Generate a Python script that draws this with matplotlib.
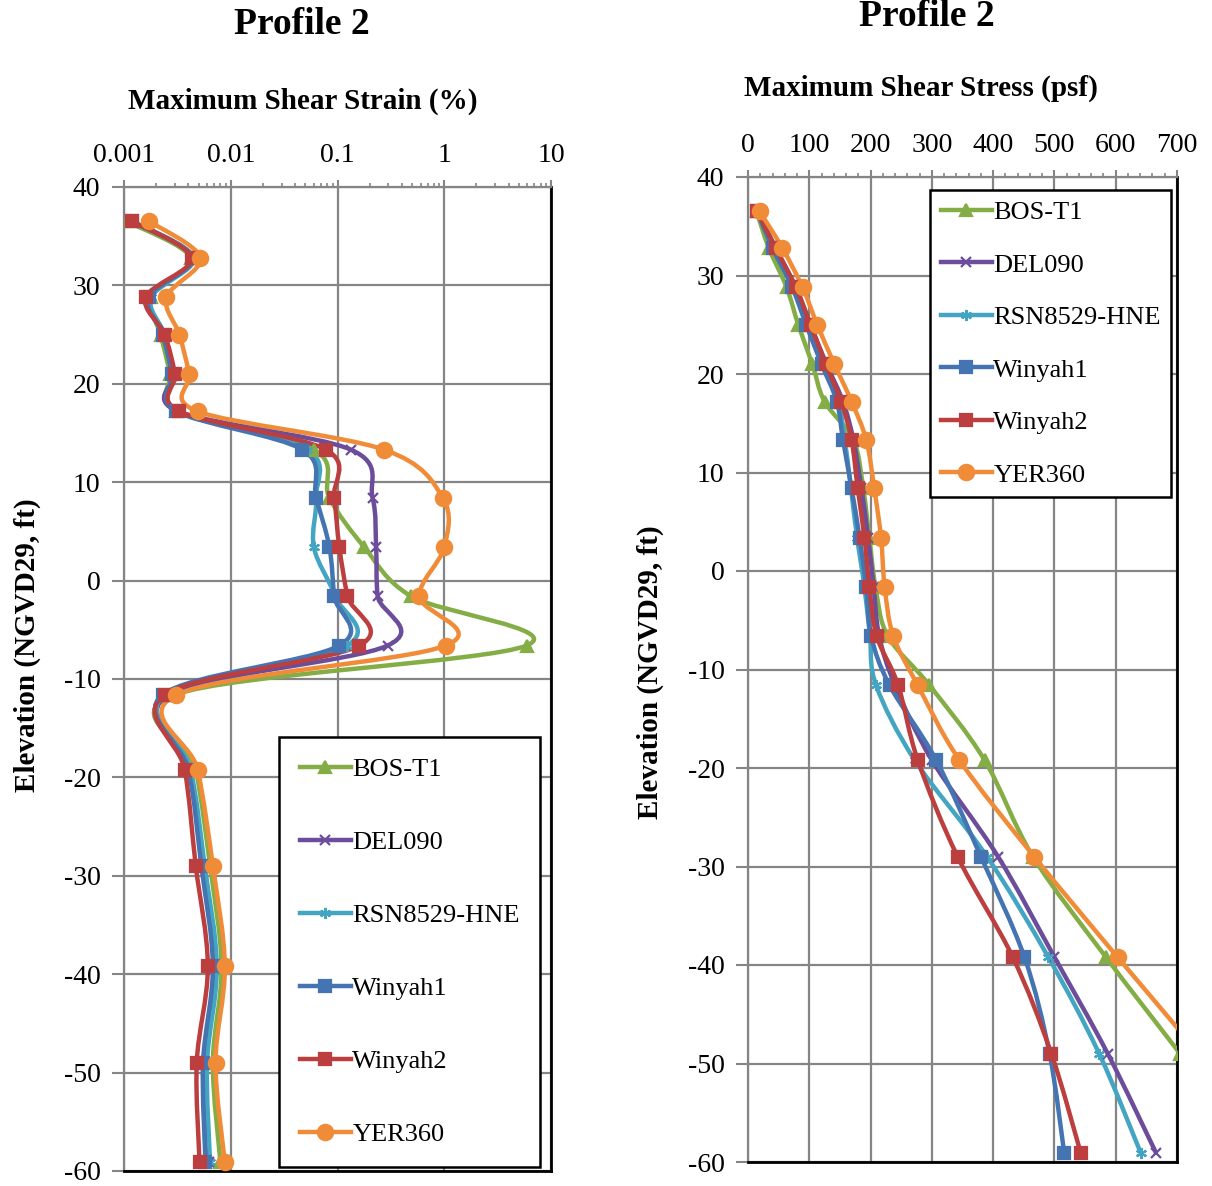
"""Profile 2: maximum shear strain and maximum shear stress vs elevation, six input motions."""
import matplotlib
matplotlib.use("Agg")
import matplotlib.pyplot as plt  # noqa: E402
import numpy as np  # noqa: E402
from matplotlib.lines import Line2D  # noqa: E402
from matplotlib.patches import PathPatch  # noqa: E402
from matplotlib.path import Path  # noqa: E402
from matplotlib.ticker import MultipleLocator, LogLocator, NullFormatter  # noqa: E402

plt.rcParams["font.family"] = ["Liberation Serif", "DejaVu Serif"]
plt.rcParams["axes.unicode_minus"] = False

# elevation of each output layer (ft, NGVD29)
elev = [36.5, 32.8, 28.8, 25.0, 21.0, 17.2, 13.3, 8.4, 3.4, -1.6, -6.6,
        -11.6, -19.2, -29.0, -39.2, -49.0, -59.1]

motions = ["BOS-T1", "DEL090", "RSN8529-HNE", "Winyah1", "Winyah2", "YER360"]

# maximum shear strain (%)
strain_bos = [0.00107, 0.0042, 0.0018, 0.0022, 0.0027, 0.0031, 0.060, 0.084, 0.178, 0.49, 5.9,
              0.0030, 0.0047, 0.0064, 0.0082, 0.0068, 0.0080]
strain_del = [0.0012, 0.0044, 0.0017, 0.0024, 0.0029, 0.0032, 0.134, 0.213, 0.23, 0.238, 0.295,
              0.0026, 0.0041, 0.0056, 0.0072, 0.0058, 0.0062]
strain_rsn = [0.0012, 0.0045, 0.0018, 0.0024, 0.0029, 0.0032, 0.052, 0.063, 0.060, 0.095, 0.122,
              0.0024, 0.0042, 0.0057, 0.0074, 0.0060, 0.0064]
strain_w1 = [0.0012, 0.0044, 0.0017, 0.0023, 0.0028, 0.0031, 0.047, 0.063, 0.084, 0.093, 0.104,
             0.0023, 0.0040, 0.0053, 0.0068, 0.0055, 0.0058]
strain_w2 = [0.0012, 0.0043, 0.0016, 0.0024, 0.0030, 0.0033, 0.078, 0.093, 0.104, 0.124, 0.160,
             0.0024, 0.0037, 0.0047, 0.0061, 0.0048, 0.0051]
strain_yer = [0.00173, 0.0052, 0.0025, 0.0033, 0.0041, 0.0049, 0.274, 0.97, 1.0, 0.585, 1.03,
              0.0031, 0.0049, 0.0068, 0.0088, 0.0072, 0.0088]

# maximum shear stress (psf)
stress_bos = [14, 34, 63, 82, 105, 125, 172, 188, 198, 208, 228, 296, 386, 465, 584, 705, 830]
stress_del = [16, 45, 78, 102, 128, 155, 172, 185, 196, 205, 214, 240, 300, 408, 500, 587, 666]
stress_rsn = [15, 42, 74, 97, 122, 147, 158, 168, 178, 190, 199, 209, 272, 390, 490, 573, 641]
stress_w1 = [15, 40, 72, 95, 120, 145, 155, 169, 182, 193, 201, 231, 307, 380, 451, 492, 516]
stress_w2 = [15, 45, 78, 102, 127, 152, 169, 179, 190, 198, 210, 245, 277, 342, 432, 495, 543]
stress_yer = [19, 56, 89, 113, 141, 169, 193, 206, 217, 223, 237, 277, 345, 467, 603, 736, 870]

strain = [strain_bos, strain_del, strain_rsn, strain_w1, strain_w2, strain_yer]
stress = [stress_bos, stress_del, stress_rsn, stress_w1, stress_w2, stress_yer]

colors = ["#84AE45", "#6C4D9C", "#43A5C2", "#4474B2", "#BC3E3E", "#F08B38"]
markers = ["^", "x", (6, 2, 0), "s", "s", "o"]
msizes = [8, 7, 8, 8, 8, 11]

W, H = 1212, 1186


def fx(px):
    return px / W


def fy(py):
    return 1 - py / H


def smooth_path(xs, ys, logx=False):
    """Excel-style smoothed line: cubic Bezier through every point."""
    u = np.log10(xs) if logx else np.asarray(xs, dtype=float)
    v = np.asarray(ys, dtype=float)
    p = np.column_stack([u, v])
    n = len(p)
    verts = [p[0]]
    codes = [Path.MOVETO]
    for i in range(n - 1):
        p0 = p[max(i - 1, 0)]
        p3 = p[min(i + 2, n - 1)]
        c1 = p[i] + (p[i + 1] - p0) / 6
        c2 = p[i + 1] - (p3 - p[i]) / 6
        verts += [c1, c2, p[i + 1]]
        codes += [Path.CURVE4] * 3
    verts = np.array(verts)
    if logx:
        verts[:, 0] = 10 ** verts[:, 0]
    return Path(verts, codes)


def style_axes(ax):
    ax.set_ylim(-60, 40)
    ax.yaxis.set_major_locator(MultipleLocator(10))
    ax.xaxis.tick_top()
    ax.grid(True, which="major", color="#858585", lw=1.6)
    ax.set_axisbelow(True)
    for s in ("top", "left"):
        ax.spines[s].set_color("#858585")
        ax.spines[s].set_linewidth(1.6)
    for s in ("right", "bottom"):
        ax.spines[s].set_color("black")
        ax.spines[s].set_linewidth(2)
    ax.tick_params(axis="y", which="major", direction="out", length=9, width=1.5,
                   color="#858585", pad=8, labelsize=20)
    ax.tick_params(axis="x", which="major", direction="out", length=5, width=1.5,
                   color="#858585", pad=9, labelsize=20)
    ax.tick_params(axis="x", which="minor", direction="out", length=3, width=1.2,
                   color="#858585")


def draw_series(ax, xdata, logx):
    for vals, c, m, ms in zip(xdata, colors, markers, msizes):
        ax.add_patch(PathPatch(smooth_path(vals, elev, logx), fill=False,
                               edgecolor=c, lw=3.2, zorder=3))
        ax.plot(vals, elev, ls="none", marker=m, ms=ms, color=c, mec=c,
                mew=1.6, zorder=4)


def add_legend(ax, anchor, spacing, pad):
    handles = [Line2D([], [], color=c, lw=3.2, marker=m, ms=ms, mew=1.6)
               for c, m, ms in zip(colors, markers, msizes)]
    leg = ax.legend(handles, motions, loc="upper left", bbox_to_anchor=anchor,
                    bbox_transform=ax.figure.transFigure, fontsize=19,
                    labelspacing=spacing, handlelength=1.95, handletextpad=0.05,
                    borderpad=pad, fancybox=False, framealpha=1, borderaxespad=0)
    leg.get_frame().set_edgecolor("black")
    leg.get_frame().set_linewidth(1.8)
    return leg


fig = plt.figure(figsize=(W / 100, H / 100), dpi=100)

# --- left: shear strain, log x ---
ax1 = fig.add_axes([fx(124), fy(1171), fx(551 - 124), (1171 - 187) / H])
ax1.set_xscale("log")
ax1.set_xlim(0.001, 10)
ax1.xaxis.set_minor_locator(LogLocator(base=10, subs=np.arange(2, 10), numticks=20))
ax1.xaxis.set_minor_formatter(NullFormatter())
ax1.set_xticks([0.001, 0.01, 0.1, 1, 10])
ax1.set_xticklabels(["0.001", "0.01", "0.1", "1", "10"])
style_axes(ax1)
draw_series(ax1, strain, True)
add_legend(ax1, (fx(279), fy(737)), 1.88, 0.78)

# --- right: shear stress, linear x ---
ax2 = fig.add_axes([fx(748), fy(1162), fx(1177 - 748), (1162 - 177) / H])
ax2.set_xlim(0, 700)
ax2.xaxis.set_major_locator(MultipleLocator(100))
ax2.xaxis.set_minor_locator(MultipleLocator(20))
style_axes(ax2)
draw_series(ax2, stress, False)
add_legend(ax2, (fx(930), fy(190)), 1.1, 0.4)

# titles and axis labels
fig.text(fx(302), fy(25), "Profile 2", ha="center", va="center", fontsize=27, weight="bold")
fig.text(fx(927), fy(16), "Profile 2", ha="center", va="center", fontsize=27, weight="bold")
fig.text(fx(303), fy(101), "Maximum Shear Strain (%)", ha="center", va="center",
         fontsize=21, weight="bold")
fig.text(fx(921), fy(88), "Maximum Shear Stress (psf)", ha="center", va="center",
         fontsize=21, weight="bold")
fig.text(fx(27), fy(645), "Elevation (NGVD29, ft)", ha="center", va="center",
         rotation=90, fontsize=21, weight="bold")
fig.text(fx(650), fy(672), "Elevation (NGVD29, ft)", ha="center", va="center",
         rotation=90, fontsize=21, weight="bold")

fig.savefig("out.png", dpi=100)
plt.close(fig)
